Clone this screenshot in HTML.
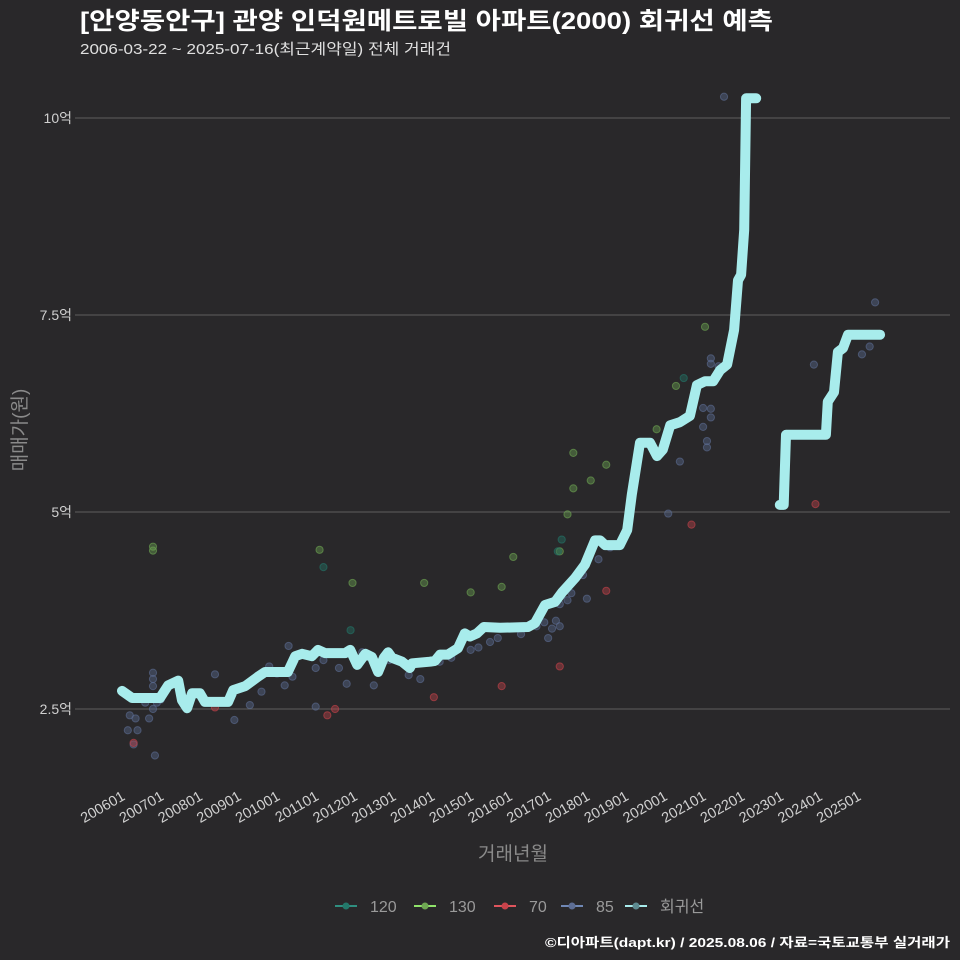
<!DOCTYPE html>
<html><head><meta charset="utf-8">
<style>
html,body{margin:0;padding:0;background:#29282a;}
svg{display:block;font-family:"Liberation Sans","Noto Sans CJK KR",sans-serif;}
</style></head>
<body>
<svg id="chart" width="960" height="960" viewBox="0 0 960 960">
<rect width="960" height="960" fill="#29282a"/>
<text x="80" y="29" fill="#ffffff" font-size="24" font-weight="bold" textLength="693" lengthAdjust="spacingAndGlyphs">[안양동안구] 관양 인덕원메트로빌 아파트(2000) 회귀선 예측</text>
<text x="80" y="54" fill="#e0e0e0" font-size="15" textLength="371" lengthAdjust="spacingAndGlyphs">2006-03-22 ~ 2025-07-16(최근계약일) 전체 거래건</text>
<g id="grid"></g><g id="pts"></g><g id="reg"></g><g id="xt"></g>
<text x="26" y="430" fill="#8a8a8a" font-size="19" text-anchor="middle" transform="rotate(-90 26 430)">매매가(원)</text>
<text x="513" y="860" fill="#8a8a8a" font-size="19" text-anchor="middle">거래년월</text>
<g id="legend"></g>
<text x="950" y="947" fill="#ffffff" font-size="13" font-weight="bold" text-anchor="end" textLength="405" lengthAdjust="spacingAndGlyphs">©디아파트(dapt.kr) / 2025.08.06 / 자료=국토교통부 실거래가</text>
</svg>
<script>
const yTicks=[2.5,5,7.5,10];
const yTickLabels=["2.5억","5억","7.5억","10억"];
const xTickYears=[2006,2007,2008,2009,2010,2011,2012,2013,2014,2015,2016,2017,2018,2019,2020,2021,2022,2023,2024,2025];
const xTickLabels=["200601","200701","200801","200901","201001","201101","201201","201301","201401","201501","201601","201701","201801","201901","202001","202101","202201","202301","202401","202501"];
const regT1=[2006.0,2006.26,2006.98,2007.19,2007.45,2007.55,2007.68,2007.81,2008.01,2008.14,2008.74,2008.87,2009.18,2009.51,2009.69,2010.28,2010.47,2010.65,2010.9,2011.06,2011.24,2011.76,2011.89,2012.07,2012.28,2012.45,2012.61,2012.76,2012.87,2012.97,2013.23,2013.43,2013.49,2013.95,2014.08,2014.21,2014.41,2014.67,2014.85,2014.98,2015.16,2015.34,2015.76,2016.48,2016.66,2016.92,2017.18,2017.36,2017.69,2017.95,2018.21,2018.34,2018.47,2018.85,2019.04,2019.16,2019.37,2019.63,2019.81,2019.96,2020.15,2020.4,2020.66,2020.84,2021.05,2021.26,2021.44,2021.62,2021.8,2021.9,2021.98,2022.06,2022.11,2022.37];
const regV1=[2.73,2.64,2.64,2.8,2.86,2.61,2.51,2.7,2.7,2.59,2.59,2.74,2.79,2.91,2.97,2.97,3.17,3.2,3.17,3.25,3.21,3.21,3.25,3.06,3.2,3.16,2.97,3.15,3.22,3.15,3.1,3.02,3.08,3.1,3.11,3.19,3.19,3.27,3.46,3.42,3.46,3.54,3.53,3.54,3.59,3.82,3.86,3.98,4.16,4.33,4.64,4.64,4.58,4.58,4.77,5.22,5.88,5.88,5.71,5.79,6.1,6.14,6.22,6.61,6.66,6.66,6.8,6.87,7.31,7.94,8.01,8.58,10.25,10.25];
const regT2=[2022.98,2023.08,2023.14,2024.17,2024.22,2024.38,2024.48,2024.61,2024.74,2025.57];
const regV2=[5.09,5.09,5.98,5.98,6.4,6.52,7.03,7.08,7.25,7.25];
const t85=[2006.2,2006.15,2006.35,2006.4,2006.3,2006.6,2006.7,2006.8,2006.8,2006.8,2006.8,2006.9,2007.0,2006.85,2008.4,2008.9,2009.3,2009.6,2009.8,2010.0,2010.3,2010.2,2010.4,2011.0,2011.2,2011.0,2011.6,2011.8,2012.2,2012.5,2012.9,2013.4,2013.7,2014.2,2014.5,2015.0,2015.2,2015.5,2015.7,2016.3,2016.7,2016.9,2017.0,2017.1,2017.2,2017.3,2017.3,2017.5,2017.6,2017.9,2018.0,2018.3,2018.6,2018.9,2020.1,2020.4,2021.1,2021.1,2021.2,2021.2,2021.0,2021.2,2021.2,2021.0,2021.4,2021.54,2023.86,2025.1,2025.3,2025.44];
const v85=[2.42,2.23,2.38,2.23,2.05,2.58,2.38,2.88,2.96,2.79,2.5,2.58,2.62,1.91,2.94,2.36,2.55,2.72,3.04,2.95,3.3,2.8,2.91,2.53,3.12,3.02,3.02,2.82,3.22,2.8,3.12,2.93,2.88,3.1,3.15,3.25,3.28,3.35,3.4,3.45,3.55,3.6,3.4,3.52,3.62,3.55,3.83,3.88,3.97,4.2,3.9,4.4,4.55,4.62,4.98,5.64,5.82,5.9,6.2,6.31,6.32,6.88,6.95,6.08,6.85,10.27,6.87,7.0,7.1,7.66];
const t120=[2011.2,2011.9,2017.35,2017.25,2020.5];
const v120=[4.3,3.5,4.65,4.5,6.7];
const t130=[2006.8,2006.8,2011.1,2011.95,2013.8,2015.0,2016.1,2015.8,2017.3,2017.5,2017.65,2017.65,2018.1,2018.5,2020.3,2019.8,2021.05];
const v130=[4.56,4.51,4.52,4.1,4.1,3.98,4.43,4.05,4.5,4.97,5.75,5.3,5.4,5.6,6.6,6.05,7.35];
const t70=[2006.3,2008.4,2011.3,2011.5,2014.05,2015.8,2017.3,2018.5,2020.7,2023.9];
const v70=[2.07,2.52,2.42,2.5,2.65,2.79,3.04,4.0,4.84,5.1];

const NS="http://www.w3.org/2000/svg";
const X=t=>122+(t-2006)*38.74;
const Y=v=>709-(v-2.5)*78.8;
function mk(tag,attrs,parent){const e=document.createElementNS(NS,tag);for(const k in attrs)e.setAttribute(k,attrs[k]);parent.appendChild(e);return e;}
const grid=document.getElementById('grid');
yTicks.forEach((v,i)=>{
  const l=mk('line',{x1:75,x2:950,y1:Y(v),y2:Y(v),stroke:'#5e5e5e','stroke-width':1},grid);
  
  
  const t=mk('text',{x:72,y:Y(v)+5,fill:'#d0d0d0','font-size':14,'text-anchor':'end'},grid);
  t.textContent=yTickLabels[i];
  
  
});
const xt=document.getElementById('xt');
xTickYears.forEach((yr,i)=>{
  const x=X(yr);
  const t=mk('text',{x:x+4,y:799,fill:'#d0d0d0','font-size':14.5,'text-anchor':'end',transform:`rotate(-30 ${x+4} 799)`},xt);
  t.textContent=xTickLabels[i];
  
  
});
const pts=document.getElementById('pts');
function drawPts(ts,vs,col,name){
  ts.forEach((t,i)=>{
    const c=mk('circle',{cx:X(t),cy:Y(vs[i]),r:3.6,fill:col,'fill-opacity':0.4,stroke:col,'stroke-opacity':0.6,'stroke-width':1},pts);
    
    
  });
}
drawPts(t85,v85,'#5d6e95','point-85');
drawPts(t70,v70,'#c9434b','point-70');
drawPts(t130,v130,'#6fa853','point-130');
drawPts(t120,v120,'#23786a','point-120');
const reg=document.getElementById('reg');
function drawReg(ts,vs){
  const d=ts.map((t,i)=>(i?'L':'M')+X(t).toFixed(1)+','+Y(vs[i]).toFixed(1)).join('');
  const p=mk('path',{d:d,fill:'none',stroke:'#a8ecec','stroke-width':10,'stroke-linejoin':'round','stroke-linecap':'round'},reg);
  
  
}
drawReg(regT1,regV1);
drawReg(regT2,regV2);
const legend=document.getElementById('legend');
const legItems=[["120","#23786a","#2f8f80"],["130","#6fa853","#8fe36a"],["70","#c9434b","#e0555d"],["85","#5d6e95","#7088b5"],["회귀선","#5d8a90","#a8ecec"]];
const legX=[335,414,494,561,625];
legItems.forEach((it,i)=>{
  const g=mk('g',{},legend);
  
  
  const x=legX[i];
  mk('line',{x1:x,x2:x+22,y1:906,y2:906,stroke:it[2],'stroke-width':2},g);
  mk('circle',{cx:x+11,cy:906,r:3.5,fill:it[1]},g);
  const t=mk('text',{x:x+35,y:912,fill:'#9a9a9a','font-size':16},g);
  t.textContent=it[0];
});
</script>
</body></html>
